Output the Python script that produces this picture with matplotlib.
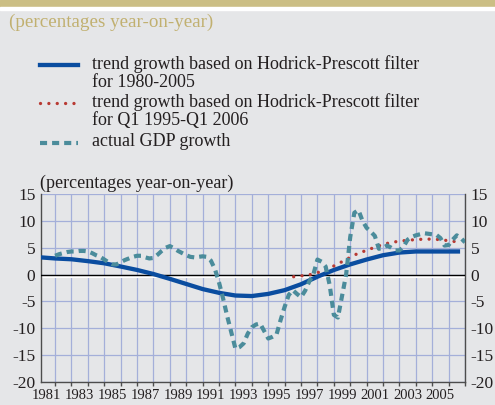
import numpy as np
import matplotlib
matplotlib.use("Agg")
import matplotlib.pyplot as plt
import matplotlib.transforms as mtransforms
from matplotlib.lines import Line2D
from matplotlib.patches import Rectangle

plt.rcParams['font.family'] = ['Liberation Serif', 'DejaVu Serif']
plt.rcParams['axes.unicode_minus'] = False

# trend growth, Hodrick-Prescott filter 1980-2005 (yearly readings)
trend_years = [1981.14, 1982, 1983, 1984, 1985, 1986, 1987, 1988, 1989, 1990,
               1991, 1992, 1993, 1994, 1995, 1996, 1997, 1998, 1999, 2000,
               2001, 2002, 2003, 2004, 2005, 2006, 2006.7]
trend_vals = [3.2, 3.0, 2.85, 2.5, 2.1, 1.5, 0.86, 0.1, -0.8, -1.75,
              -2.7, -3.4, -3.9, -4.0, -3.6, -2.9, -1.8, -0.4, 0.85, 1.9,
              2.8, 3.6, 4.1, 4.3, 4.3, 4.3, 4.3]

# trend growth, Hodrick-Prescott filter Q1 1995-Q1 2006 (half-yearly readings)
trend2_years = [1996.55, 1997.0, 1997.5, 1998.0, 1998.5, 1999.0, 1999.5, 2000.0,
                2000.5, 2001.0, 2001.5, 2002.0, 2002.5, 2003.0, 2003.5, 2004.0,
                2004.5, 2005.0, 2005.5, 2006.0, 2006.5, 2006.8]
trend2_vals = [-0.4, -0.25, -0.05, 0.35, 0.95, 1.6, 2.4, 3.2,
               4.0, 4.5, 5.1, 5.6, 6.0, 6.2, 6.4, 6.5,
               6.6, 6.6, 6.5, 6.3, 6.1, 6.0]

# actual GDP growth, quarterly from 1982 Q1
gdp_start = 1982.0
gdp_vals = [3.5, 3.8, 4.0, 4.2,   4.3, 4.3, 4.4, 4.4,   4.3, 4.0, 3.6, 3.3,
            2.8, 2.3, 1.9, 1.9,   2.3, 2.7, 3.0, 3.3,   3.5, 3.5, 3.2, 3.0,
            3.1, 3.7, 4.4, 5.0,   5.3, 4.9, 4.4, 4.0,   3.6, 3.3, 3.2, 3.3,
            3.4, 3.3, 2.6, 1.0,   -1.5, -4.5, -7.8, -10.8,
            -13.8, -13.5, -12.8, -11.0,   -9.8, -9.3, -9.1, -10.5,
            -11.9, -11.6, -11.2, -8.5,   -6.0, -3.8, -2.9, -3.6,
            -4.2, -3.0, -1.3, 0.0,   2.8, 2.4, 1.5, -2.0,
            -7.5, -8.0, -4.0, 0.0,   7.0, 11.5, 12.0, 10.0,
            8.7, 8.0, 7.2, 4.8,   5.0, 5.4, 5.0, 4.5,
            4.5, 5.2, 6.5, 7.0,   7.3, 7.5, 7.7, 7.6,
            7.5, 7.4, 6.8, 5.4,   5.5, 6.5, 7.3, 6.8,   6.0]
gdp_years = gdp_start + 0.25 * np.arange(len(gdp_vals))

x_labels = [str(y) for y in range(1981, 2006, 2)]
y_ticks = [-20, -15, -10, -5, 0, 5, 10, 15]

bg = '#E5E6E8'
gold = '#CBBE84'
txt = '#231F20'
grid_c = '#A4AFD9'
blue = '#0A4DA0'
red = '#B83A33'
teal = '#4B8C9B'

dots = (0, (0.01, 2.5))
dashes = (0, (1.7, 1.2))

W, H = 495, 405
fig = plt.figure(figsize=(W / 100, H / 100), dpi=100, facecolor=bg)

# header band
fig.patches.append(Rectangle((0, 1 - 7.5 / H), 1, 7.5 / H, transform=fig.transFigure,
                             color=gold, zorder=0))
fig.patches.append(Rectangle((0, 1 - 10 / H), 1, 2.5 / H, transform=fig.transFigure,
                             color='white', zorder=0))
fig.text(9 / W, 1 - 22 / H, '(percentages year-on-year)', color='#C1B070',
         fontsize=13.7, va='center', ha='left')

# legend drawn by hand so the handles line up with the first text line
leg = [(65, blue, '-', 3.1, 'trend growth based on Hodrick-Prescott filter\nfor 1980-2005'),
       (103, red, dots, 2.4, 'trend growth based on Hodrick-Prescott filter\nfor Q1 1995-Q1 2006'),
       (142.5, teal, dashes, 3.0, 'actual GDP growth')]
for yy, c, ls, lw, lab in leg:
    ln = Line2D([40 / W, 78 / W], [1 - yy / H, 1 - yy / H], transform=fig.transFigure,
                color=c, lw=lw, linestyle=ls, dash_capstyle='round' if c == red else 'butt')
    fig.add_artist(ln)
    fig.text(92 / W, 1 - (yy - 9.5) / H, lab, fontsize=13, color=txt, va='top',
             ha='left', linespacing=1.05)

ax = fig.add_axes([41 / W, 1 - 382 / H, 424 / W, 188 / H])
ax.set_facecolor(bg)

ax.plot(trend_years, trend_vals, color=blue, lw=3.1, zorder=4, solid_capstyle='butt')
ax.plot(trend2_years, trend2_vals, color=red, lw=2.4, linestyle=dots,
        dash_capstyle='round', zorder=5)
ax.plot(gdp_years, gdp_vals, color=teal, lw=3.0, linestyle=dashes, zorder=6)

# zero line with white shadow below
ax.axhline(0, color='black', lw=1, zorder=3)
shift = mtransforms.ScaledTranslation(0, -2 / 100, fig.dpi_scale_trans)
ax.plot([0, 1], [0, 0], color='white', lw=1.5, zorder=2.5,
        transform=ax.get_yaxis_transform() + shift)

ax.set_xlim(1981.14, 2007.0)
ax.set_ylim(-20, 15)
ax.set_xticks(range(1982, 2008))
ax.set_xticklabels([])
ax.set_xticks([int(l) + 0.5 for l in x_labels], minor=True)
ax.set_xticklabels(x_labels, minor=True)
ax.tick_params(axis='x', which='major', direction='out', length=3, width=1, color='#4d4d4d')
ax.tick_params(axis='x', which='minor', length=0, pad=5, labelsize=10.5, labelcolor=txt)
ax.set_yticks(y_ticks)
ax.tick_params(axis='y', length=0, labelleft=True, labelright=True, labelsize=12.5,
               labelcolor=txt, pad=4)
ax.grid(True, which='major', color=grid_c, lw=0.9, zorder=1)
ax.set_axisbelow(True)

for s in ['left', 'right', 'bottom']:
    ax.spines[s].set_color('#4d4d4d')
    ax.spines[s].set_linewidth(1)
ax.spines['top'].set_visible(False)

fig.text(40 / W, 1 - 183 / H, '(percentages year-on-year)', fontsize=13, color=txt,
         va='center', ha='left')

fig.savefig('out.png', dpi=100, facecolor=bg)
